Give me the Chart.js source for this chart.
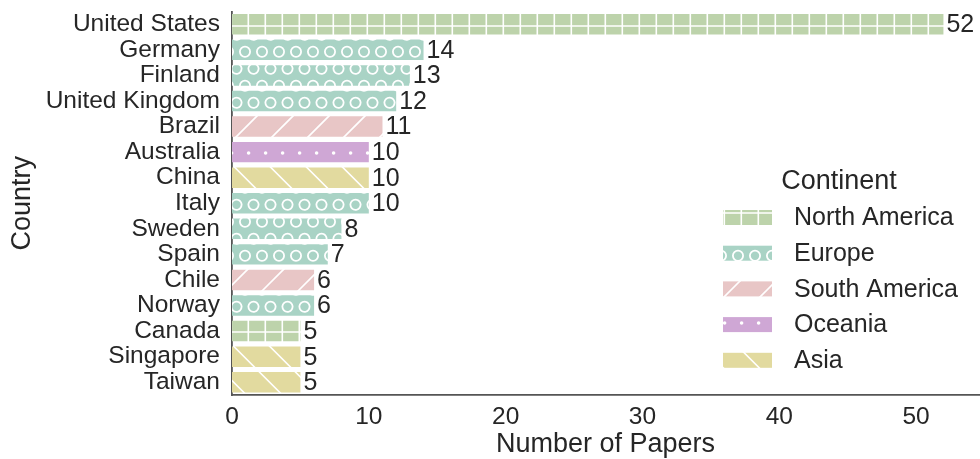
<!DOCTYPE html>
<html>
<head>
<meta charset="utf-8">
<script src="https://cdn.jsdelivr.net/npm/chart.js@4/dist/chart.umd.min.js"></script>
<style>
  html, body { margin: 0; padding: 0; background: #ffffff; }
  #wrap { width: 980px; height: 459px; }
</style>
</head>
<body>
<div id="wrap"><canvas id="c" width="980" height="459"></canvas></div>
<script>
// ---- data ----
const countries = ['United States','Germany','Finland','United Kingdom','Brazil','Australia','China','Italy','Sweden','Spain','Chile','Norway','Canada','Singapore','Taiwan'];
const papers = [52,14,13,12,11,10,10,10,8,7,6,6,5,5,5];
const countryContinent = ['North America','Europe','Europe','Europe','South America','Oceania','Asia','Europe','Europe','Europe','South America','Europe','North America','Asia','Asia'];
const continents = ['North America','Europe','South America','Oceania','Asia'];
const xTicks = [0,10,20,30,40,50];
const xAxisMax = 54.6;

// ---- styles ----
const FONT = '"Liberation Sans", Arial, Helvetica, sans-serif';
const TEXT = '#262626';
const continentColor = {
  'North America': '#bdd3ab',
  'Europe': '#a9d3c5',
  'South America': '#e8c6c6',
  'Oceania': '#cfa7d5',
  'Asia': '#e2da9f'
};

function makeTile(w, h, bg, draw) {
  const c = document.createElement('canvas');
  c.width = w; c.height = h;
  const g = c.getContext('2d');
  g.fillStyle = bg; g.fillRect(0, 0, w, h);
  g.strokeStyle = '#ffffff'; g.fillStyle = '#ffffff';
  g.lineWidth = 1.6;
  draw(g, w, h);
  return document.getElementById('c').getContext('2d').createPattern(c, 'repeat');
}

const patterns = {
  'North America': makeTile(17, 17, continentColor['North America'], (g) => {
    g.beginPath();
    g.moveTo(10.3, 0); g.lineTo(10.3, 17);
    g.moveTo(0, 9); g.lineTo(17, 9);
    g.stroke();
  }),
  'Europe': makeTile(17, 34, continentColor['Europe'], (g) => {
    g.lineWidth = 1.8;
    const pts = [[7, 17.7], [15.5, 0.7]];
    for (const [px, py] of pts) {
      for (const dx of [-17, 0, 17]) for (const dy of [-34, 0, 34]) {
        g.beginPath(); g.arc(px + dx, py + dy, 5.1, 0, Math.PI * 2); g.stroke();
      }
    }
  }),
  'South America': makeTile(36, 36, continentColor['South America'], (g) => {
    g.beginPath();
    for (let k = -1; k <= 2; k++) {
      const s = 13 + k * 36; // x + y = s
      g.moveTo(s + 10, -10); g.lineTo(s - 46, 46);
    }
    g.stroke();
  }),
  'Oceania': makeTile(17, 34, continentColor['Oceania'], (g) => {
    const pts = [[10.6, 17], [2.1, 0]];
    for (const [px, py] of pts) {
      for (const dx of [-17, 0, 17]) for (const dy of [-34, 0, 34]) {
        g.beginPath(); g.arc(px + dx, py + dy, 1.8, 0, Math.PI * 2); g.fill();
      }
    }
  }),
  'Asia': makeTile(36, 36, continentColor['Asia'], (g) => {
    g.beginPath();
    for (let k = -1; k <= 2; k++) {
      const s = 31.4 + k * 36; // x - y = s
      g.moveTo(s - 10, -10); g.lineTo(s + 46, 46);
    }
    g.stroke();
  })
};

const valueLabels = {
  id: 'valueLabels',
  afterDatasetsDraw(chart) {
    const ctx = chart.ctx;
    const meta = chart.getDatasetMeta(0);
    ctx.save();
    ctx.font = '25px ' + FONT;
    ctx.fillStyle = TEXT;
    ctx.textAlign = 'left';
    ctx.textBaseline = 'middle';
    meta.data.forEach((el, i) => {
      ctx.fillText(String(papers[i]), el.x + 3, el.y + 1);
    });
    ctx.restore();
  }
};

const customLegend = {
  id: 'customLegend',
  afterDraw(chart) {
    const ctx = chart.ctx;
    const ca = chart.chartArea;
    const swX = ca.right - 256, swW = 49, swH = 15;
    const txX = ca.right - 185;
    const y0 = ca.top + 206, dy = 35.7;
    ctx.save();
    ctx.fillStyle = TEXT;
    ctx.font = '27px ' + FONT;
    ctx.textAlign = 'center';
    ctx.textBaseline = 'middle';
    ctx.fillText('Continent', ca.right - 140, ca.top + 170.5);
    ctx.font = '25px ' + FONT;
    ctx.textAlign = 'left';
    continents.forEach((c, i) => {
      const y = y0 + i * dy;
      ctx.fillStyle = patterns[c];
      ctx.fillRect(swX, y - swH / 2, swW, swH);
      ctx.fillStyle = TEXT;
      ctx.fillText(c, txX, y + 1);
    });
    ctx.restore();
  }
};

new Chart(document.getElementById('c'), {
  type: 'bar',
  data: {
    labels: countries,
    datasets: [{
      label: 'Number of Papers',
      data: papers,
      backgroundColor: countryContinent.map(c => patterns[c]),
      borderWidth: 0,
      categoryPercentage: 1.0,
      barPercentage: 0.8
    }]
  },
  options: {
    indexAxis: 'y',
    responsive: false,
    animation: false,
    layout: { padding: { top: 11.5, right: 1, left: 8, bottom: 0 } },
    plugins: { legend: { display: false }, tooltip: { enabled: false } },
    scales: {
      x: {
        type: 'linear',
        min: 0,
        max: xAxisMax,
        afterBuildTicks(scale) { scale.ticks = xTicks.map(v => ({ value: v })); },
        afterFit(scale) { scale.height = 64; scale.paddingLeft = 0; scale.paddingRight = 0; },
        grid: { display: false, drawTicks: false },
        border: { display: true, color: '#555555', width: 1.8 },
        ticks: { color: TEXT, font: { family: FONT, size: 24.5 }, padding: 8, maxRotation: 0 },
        title: { display: true, text: 'Number of Papers', color: TEXT, font: { family: FONT, size: 27, lineHeight: 1.05 }, padding: 0 }
      },
      y: {
        type: 'category',
        afterFit(scale) { scale.width = 224; scale.paddingTop = 0; scale.paddingBottom = 0; },
        grid: { display: false, drawTicks: false },
        border: { display: true, color: '#555555', width: 1.8 },
        ticks: { color: TEXT, font: { family: FONT, size: 24.5 }, padding: 12, autoSkip: false },
        title: { display: true, text: 'Country', color: TEXT, font: { family: FONT, size: 27, lineHeight: 1.05 }, padding: 0 }
      }
    }
  },
  plugins: [valueLabels, customLegend]
});
</script>
</body>
</html>
